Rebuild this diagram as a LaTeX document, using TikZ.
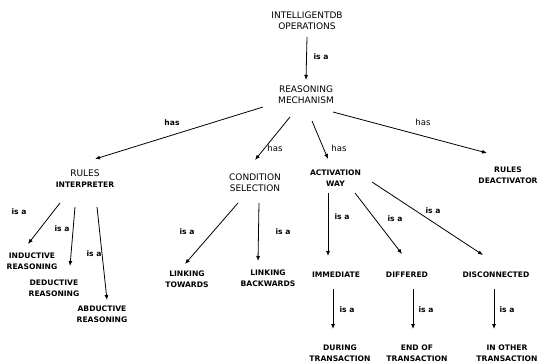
\documentclass[tikz,border=0pt]{standalone}
\usepackage{fontspec}
\setmainfont{DejaVu Sans}
\usepackage{tikz}
\usetikzlibrary{arrows.meta}

\newcommand{\strongline}[1]{{\fontsize{7.6}{11}\selectfont\bfseries #1}}

\begin{document}
\begin{tikzpicture}[%
    x=1pt, y=-1pt,
    concept/.style={%
        align=center,
        inner sep=0pt,
        font=\fontsize{9}{11}\selectfont
    },
    strong/.style={%
        align=center,
        inner sep=0pt,
        font=\fontsize{7.6}{11}\selectfont\bfseries
    },
    isa/.style={%
        inner sep=0pt,
        font=\fontsize{7.6}{8}\selectfont\bfseries
    },
    has/.style={%
        inner sep=0pt,
        font=\fontsize{8.5}{9}\selectfont
    },
    line width=0.8pt,
    >={Latex[length=5pt,width=4pt]}
]
\useasboundingbox (0,0) rectangle (540,363);

% Top
    \node[concept] (intelligentDB) at (307,20.5) {INTELLIGENTDB\\OPERATIONS};
    \node[concept] (reasoning) at (306,95) {REASONING\\MECHANISM};

% Parts of the mechanism
    \node[concept] (rulesInterp) at (85,178.5) {RULES\\\strongline{INTERPRETER}};
    \node[concept] (condSel) at (255,183) {CONDITION\\SELECTION};
    \node[strong] (activWay) at (335.5,178) {ACTIVATION\\WAY};
    \node[strong] (rulesDeact) at (508,175.5) {RULES\\DEACTIVATOR};

% Reasoning kinds
    \node[strong] (inductive) at (32,261) {INDUCTIVE\\REASONING};
    \node[strong] (deductive) at (54,288) {DEDUCTIVE\\REASONING};
    \node[strong] (abductive) at (102,314.5) {ABDUCTIVE\\REASONING};

% Linking
    \node[strong] (linkTowards) at (187,279.5) {LINKING\\TOWARDS};
    \node[strong] (linkBackwards) at (268,278) {LINKING\\BACKWARDS};

% Activation kinds
    \node[strong] (immediate) at (336,275) {IMMEDIATE};
    \node[strong] (differed) at (407,275) {DIFFERED};
    \node[strong] (disconnected) at (496,275) {DISCONNECTED};

    \node[strong] (during) at (340,353) {DURING\\TRANSACTION};
    \node[strong] (endOf) at (417,353) {END OF\\TRANSACTION};
    \node[strong] (inOther) at (507,353) {IN OTHER\\TRANSACTION};

% Labels
    \node[isa] (isa0) at (321,57) {is a};
    \node[isa] (has1) at (172,123) {has};
    \node[has] (has2) at (275,148) {has};
    \node[has] (has3) at (339,148) {has};
    \node[has] (has4) at (423,122) {has};
    \node[isa] (isa11) at (19,212) {is a};
    \node[isa] (isa12) at (62,229) {is a};
    \node[isa] (isa13) at (94,254) {is a};
    \node[isa] (isa21) at (187,232) {is a};
    \node[isa] (isa22) at (283,232) {is a};
    \node[isa] (isa31) at (342,217) {is a};
    \node[isa] (isa32) at (395,219) {is a};
    \node[isa] (isa33) at (433,211) {is a};
    \node[isa] (isa41) at (347,310) {is a};
    \node[isa] (isa42) at (426,310) {is a};
    \node[isa] (isa43) at (507,310) {is a};

% Arrows
\draw[->] ([shift={(0,16.5)}]intelligentDB.center) -- ([shift={(0,-15)}]reasoning.center);

\draw[->] ([shift={(-43,12)}]reasoning.center) -- ([shift={(10,-19.5)}]rulesInterp.center);
\draw[->] ([shift={(-16,22)}]reasoning.center) -- ([shift={(0,-23)}]condSel.center);
\draw[->] ([shift={(6,26)}]reasoning.center) -- ([shift={(-7.5,-19)}]activWay.center);
\draw[->] ([shift={(27,17)}]reasoning.center) -- ([shift={(-21,-22.5)}]rulesDeact.center);

\draw[->] ([shift={(-25,24.5)}]rulesInterp.center) -- ([shift={(-4,-17)}]inductive.center);
\draw[->] ([shift={(-10,28.5)}]rulesInterp.center) -- ([shift={(16,-22)}]deductive.center);
\draw[->] ([shift={(12,28.5)}]rulesInterp.center) -- ([shift={(5,-14.5)}]abductive.center);

\draw[->] ([shift={(-17,20)}]condSel.center) -- ([shift={(-2,-15.5)}]linkTowards.center);
\draw[->] ([shift={(4,20)}]condSel.center) -- ([shift={(-10,-17)}]linkBackwards.center);

\draw[->] ([shift={(-7.5,15)}]activWay.center) -- ([shift={(-8,-19)}]immediate.center);
\draw[->] ([shift={(19.5,15)}]activWay.center) -- ([shift={(-5,-21)}]differed.center);
\draw[->] ([shift={(36.5,4)}]activWay.center) -- ([shift={(-13,-20)}]disconnected.center);

\draw[->] ([shift={(-3,14)}]immediate.center) -- ([shift={(-7,-24)}]during.center);
\draw[->] ([shift={(6,14)}]differed.center) -- ([shift={(-4,-24)}]endOf.center);
\draw[->] ([shift={(-2,14)}]disconnected.center) -- ([shift={(-13,-24)}]inOther.center);

\end{tikzpicture}
\end{document}
